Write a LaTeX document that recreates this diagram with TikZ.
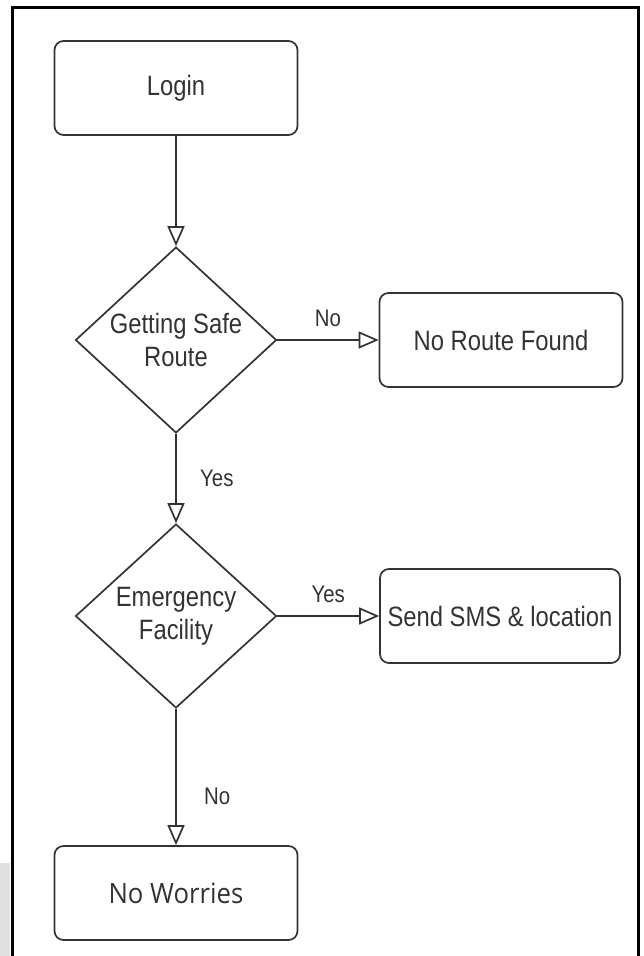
\documentclass[tikz,border=0pt]{standalone}
\usepackage{fontspec}
\setmainfont{Liberation Sans}[FakeStretch=0.85]
\newfontfamily\endfont{Open Sans}[FakeStretch=0.92]
\usetikzlibrary{arrows.meta,shapes.geometric}
\definecolor{linegray}{HTML}{333333}
\tikzstyle{procbox}=[rectangle, rounded corners=9pt, draw=linegray,
                     line width=1.7pt, text=linegray,
                     minimum width=243pt, minimum height=94pt,
                     font=\fontsize{28}{33}\selectfont, align=center]
\tikzstyle{decision}=[diamond, draw=linegray, line width=1.7pt,
                      text=linegray, inner sep=0pt,
                      minimum width=201pt, minimum height=184pt,
                      font=\fontsize{28}{33}\selectfont, align=center]
\tikzstyle{flow}=[draw=linegray, line width=1.7pt,
                  -{Triangle[open, length=20pt, width=17pt]}]
\tikzstyle{answer}=[font=\fontsize{24}{28}\selectfont, text=linegray]

\begin{document}
\begin{tikzpicture}[x=1pt, y=-1pt]
    \useasboundingbox (0,0) rectangle (643,956);
    % frame
    \fill[black!12] (0,863) rectangle (10,956);
    \draw[line width=3pt] (12,980) -- (12,7) -- (638,7) -- (638,980);

    \node (login)   at (176,88)  [procbox]  {Login};
    \node (route)   at (176,340) [decision] {Getting Safe\\Route};
    \node (noroute) at (501,340) [procbox]  {No Route Found};
    \node (emerg)   at (176,616) [decision] {Emergency\\Facility};
    \node (sms)     at (500,616) [procbox, minimum width=240pt] {Send SMS \& location};
    \node (worry)   at (176,893) [procbox, font=\endfont\fontsize{28}{33}\selectfont] {No Worries};

    \draw [flow] (login) -- (route);
    \draw [flow] (route) -- node[answer, above=9pt] {No} (noroute);
    \draw [flow] (route) -- node[answer, right=20pt] {Yes} (emerg);
    \draw [flow] (emerg) -- node[answer, above=9pt] {Yes} (sms);
    \draw [flow] (emerg) -- node[answer, pos=0.64, right=24pt] {No} (worry);
\end{tikzpicture}
\end{document}
